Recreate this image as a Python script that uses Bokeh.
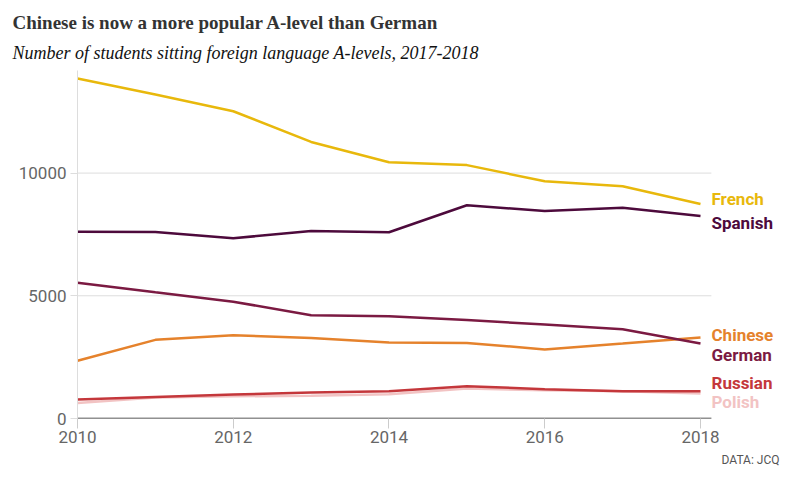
from bokeh.plotting import figure
from bokeh.models import Title, FixedTicker, Range1d
from bokeh.core.properties import value
from bokeh.embed import file_html
from bokeh.resources import INLINE

years = [2010, 2011, 2012, 2013, 2014, 2015, 2016, 2017, 2018]
french = [13850, 13200, 12520, 11270, 10440, 10325, 9665, 9460, 8740]
spanish = [7610, 7600, 7345, 7640, 7590, 8690, 8455, 8590, 8250]
german = [5530, 5140, 4760, 4210, 4170, 4010, 3830, 3640, 3055]
chinese = [2350, 3205, 3395, 3285, 3100, 3080, 2815, 3055, 3300]
russian = [775, 880, 980, 1060, 1110, 1315, 1195, 1115, 1115]
polish = [635, 855, 905, 930, 985, 1220, 1150, 1110, 1020]

x_ticks = [2010, 2012, 2014, 2016, 2018]
y_ticks = [0, 5000, 10000]

series = [
    ("Polish", polish, "#f2c3c3", 9),
    ("Russian", russian, "#c4373b", -8),
    ("Chinese", chinese, "#e5822c", -3),
    ("German", german, "#7b1a42", 11),
    ("Spanish", spanish, "#4d0a3c", 7),
    ("French", french, "#e8b80c", -5),
]

X_START, X_PLOT_END, X_CANVAS_END = 2010, 2018.14, 2019.22

p = figure(width=795, height=474, output_backend="svg", toolbar_location=None,
           x_range=Range1d(X_START, X_CANVAS_END), y_range=Range1d(0, 14180),
           min_border_left=77, min_border_right=0, min_border_bottom=56,
           min_border_top=70)
p.outline_line_color = None
p.background_fill_color = "white"

# horizontal gridlines and baseline, limited to the data area
grid_vals = [v for v in y_ticks if v != 0]
p.segment(x0=[X_START] * len(grid_vals), x1=[X_PLOT_END] * len(grid_vals),
          y0=grid_vals, y1=grid_vals, line_color="#dddddd", line_width=1)
p.segment(x0=[X_START - 0.1], x1=[X_PLOT_END], y0=[0], y1=[0],
          line_color="#222222", line_width=1.5)

for name, vals, color, dy in series:
    p.line(years, vals, line_color=color, line_width=2.5)
    p.text(x=[years[-1]], y=[vals[-1]], text=[name], x_offset=11, y_offset=dy,
           text_font=value("Roboto"), text_font_size="17px", text_color=color,
           text_font_style="bold", text_baseline="middle", text_align="left")

p.xgrid.grid_line_color = None
p.ygrid.grid_line_color = None

p.xaxis.ticker = FixedTicker(ticks=x_ticks)
p.xaxis.axis_line_color = None
p.xaxis.major_tick_line_color = "#cccccc"
p.xaxis.major_tick_out = 10
p.xaxis.major_tick_in = 0
p.xaxis.minor_tick_line_color = None
p.xaxis.major_label_text_font = "Roboto"
p.xaxis.major_label_text_font_size = "17px"
p.xaxis.major_label_text_color = "#666666"
p.xaxis.major_label_standoff = 2

p.yaxis.ticker = FixedTicker(ticks=y_ticks)
p.yaxis.axis_line_color = "#dddddd"
p.yaxis.major_tick_line_color = "#dddddd"
p.yaxis.major_tick_out = 7
p.yaxis.major_tick_in = 0
p.yaxis.minor_tick_line_color = None
p.yaxis.major_label_text_font = "Roboto"
p.yaxis.major_label_text_font_size = "17px"
p.yaxis.major_label_text_color = "#666666"
p.yaxis.major_label_standoff = 4

p.add_layout(Title(text="DATA: JCQ", text_font="Roboto", text_font_size="12px",
                   text_font_style="normal", text_color="#555555", align="right",
                   offset=16), "below")

p.add_layout(Title(text="Number of students sitting foreign language A-levels, 2017-2018",
                   text_font="Liberation Serif", text_font_style="italic",
                   text_font_size="18px", text_color="#111111", align="left",
                   offset=-65, standoff=16), "above")
p.add_layout(Title(text="Chinese is now a more popular A-level than German",
                   text_font="Liberation Serif", text_font_style="bold",
                   text_font_size="19px", text_color="#333333", align="left",
                   offset=-65, standoff=0), "above")

open("out.html", "w").write(file_html(p, INLINE))
